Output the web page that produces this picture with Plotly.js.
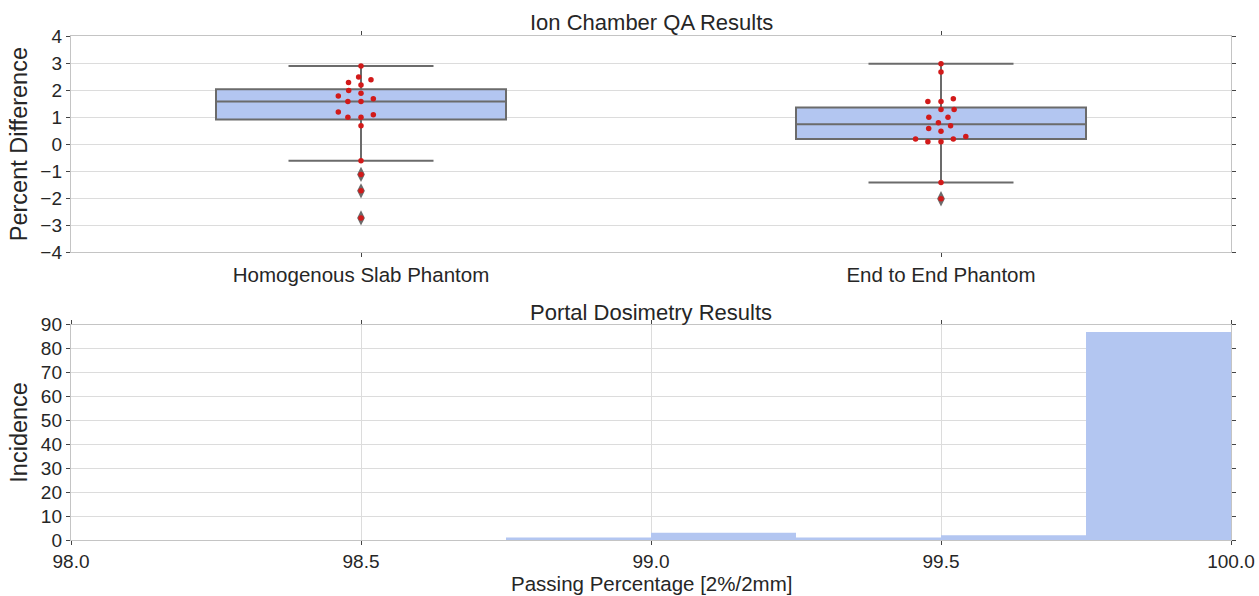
<!DOCTYPE html>
<html>
<head>
<meta charset="utf-8">
<script src="https://cdn.plot.ly/plotly-3.0.1.min.js"></script>
<style>html,body{margin:0;padding:0;background:#fff;}#chart{width:1259px;height:596px;}</style>
</head>
<body>
<div id="chart"></div>
<script>
// ---- data ----
const categories = ["Homogenous Slab Phantom", "End to End Phantom"];
const slabValues = [2.89, 2.48, 2.38, 2.28, 2.19, 1.98, 1.88, 1.78, 1.68, 1.58, 1.58, 1.19, 1.09, 0.99, 0.99, 0.68, -0.62, -1.12, -1.73, -2.73];
const e2eValues = [2.97, 2.67, 1.68, 1.58, 1.58, 1.28, 1.28, 0.99, 0.99, 0.79, 0.68, 0.58, 0.48, 0.28, 0.19, 0.19, 0.09, 0.09, -1.42, -2.02];
const binStarts = [98.75, 99.0, 99.25, 99.5, 99.75];
const binCounts = [1, 3, 1, 2, 87];
const binWidth = 0.25;

// ---- helpers ----
function quantile(sorted, p) {
  const pos = (sorted.length - 1) * p;
  const lo = Math.floor(pos), hi = Math.ceil(pos);
  return sorted[lo] + (sorted[hi] - sorted[lo]) * (pos - lo);
}
function boxStats(vals) {
  const s = vals.slice().sort((a, b) => a - b);
  const q1 = quantile(s, 0.25), med = quantile(s, 0.5), q3 = quantile(s, 0.75);
  const iqr = q3 - q1;
  const lo = q1 - 1.5 * iqr, hi = q3 + 1.5 * iqr;
  const inside = s.filter(v => v >= lo && v <= hi);
  return {q1, med, q3, lf: inside[0], uf: inside[inside.length - 1],
          outliers: s.filter(v => v < lo || v > hi)};
}
// beeswarm offsets (in pixels) computed from values
function swarm(vals, yPx, d, stretch) {
  const idx = vals.map((v, i) => i).sort((a, b) => vals[a] - vals[b]);
  const placed = [];
  const out = new Array(vals.length);
  idx.forEach(i => {
    const y = vals[i] * yPx;
    const nb = placed.filter(p => Math.abs(p.y - y) < d);
    let cands = [0];
    nb.forEach(n => {
      const dx = Math.sqrt(d * d - (n.y - y) * (n.y - y)) * stretch;
      cands.push(n.x - dx, n.x + dx);
    });
    cands = cands.map((c, k) => ({c, k})).sort((a, b) => (Math.abs(a.c) - Math.abs(b.c)) || (a.k - b.k)).map(o => o.c);
    let chosen = 0;
    for (const c of cands) {
      const ok = nb.every(n => {
        const dx = (n.x - c) / stretch, dy = n.y - y;
        return dx * dx + dy * dy >= d * d - 1e-6;
      });
      if (ok) { chosen = c; break; }
    }
    placed.push({x: chosen, y});
    out[i] = chosen;
  });
  return out;
}

const yPxPerUnit = 27, xPxPerUnit = 580;
const boxColor = "#b3c6f1", lineColor = "#6b6b6b", dotColor = "#d21a1a";
const groups = [slabValues, e2eValues];
const traces = [];
groups.forEach((vals, gi) => {
  const st = boxStats(vals);
  traces.push({
    type: "box", x: [gi], q1: [st.q1], median: [st.med], q3: [st.q3],
    lowerfence: [st.lf], upperfence: [st.uf],
    width: 0.5, whiskerwidth: 0.5, fillcolor: boxColor,
    line: {color: lineColor, width: 2}, boxpoints: false,
    xaxis: "x", yaxis: "y", hoverinfo: "skip", showlegend: false
  });
  traces.push({
    type: "scatter", mode: "markers", x: st.outliers.map(() => gi), y: st.outliers,
    marker: {symbol: "diamond-tall", size: 11, color: lineColor},
    xaxis: "x", yaxis: "y", hoverinfo: "skip", showlegend: false
  });
});
groups.forEach((vals, gi) => {
  const off = swarm(vals, yPxPerUnit, 7.9, 1.66);
  traces.push({
    type: "scatter", mode: "markers", x: off.map(o => gi + o / xPxPerUnit), y: vals,
    marker: {size: 5.5, color: dotColor},
    xaxis: "x", yaxis: "y", hoverinfo: "skip", showlegend: false
  });
});
traces.push({
  type: "bar", x: binStarts, y: binCounts, width: binWidth, offset: 0,
  marker: {color: boxColor, line: {width: 0}},
  xaxis: "x2", yaxis: "y2", hoverinfo: "skip", showlegend: false
});

const font = {family: "Liberation Sans, Arial, sans-serif", color: "#262626"};
const axisCommon = {
  showline: true, linecolor: "#c4c4c4", linewidth: 1.2, mirror: "allticks",
  ticks: "outside", ticklen: 4, tickwidth: 1, tickcolor: "#444",
  gridcolor: "#dcdcdc", gridwidth: 1, zeroline: false,
  tickfont: {size: 19, family: font.family, color: "#262626"}
};
const layout = {
  width: 1259, height: 596,
  margin: {l: 71, r: 28, t: 36, b: 56},
  paper_bgcolor: "#fff", plot_bgcolor: "#fff",
  font: font, showlegend: false,
  xaxis: Object.assign({}, axisCommon, {
    anchor: "y", domain: [0, 1], range: [-0.5, 1.5],
    tickmode: "array", tickvals: [0, 1], ticktext: categories, showgrid: false,
    tickfont: {size: 20.5, family: font.family, color: "#262626"}
  }),
  yaxis: Object.assign({}, axisCommon, {
    anchor: "x", domain: [0.571, 1], range: [-4, 4], dtick: 1, tick0: 0,
    title: {text: "Percent Difference", font: {size: 23.5}, standoff: 6}
  }),
  xaxis2: Object.assign({}, axisCommon, {
    anchor: "y2", domain: [0, 1], range: [98, 100], dtick: 0.5, tick0: 98, tickformat: ".1f"
  }),
  yaxis2: Object.assign({}, axisCommon, {
    anchor: "x2", domain: [0, 0.427], range: [0, 90], dtick: 10, tick0: 0,
    title: {text: "Incidence", font: {size: 23.5}, standoff: 6}
  }),
  annotations: [
    {text: "Ion Chamber QA Results", xref: "paper", yref: "paper", x: 0.5, y: 1,
     xanchor: "center", yanchor: "bottom", showarrow: false, font: {size: 22}, yshift: -1},
    {text: "Portal Dosimetry Results", xref: "paper", yref: "paper", x: 0.5, y: 0.427,
     xanchor: "center", yanchor: "bottom", showarrow: false, font: {size: 22}, yshift: -2},
    {text: "Passing Percentage [2%/2mm]", xref: "paper", yref: "paper", x: 0.5, y: 0,
     xanchor: "center", yanchor: "top", showarrow: false, font: {size: 20.5}, yshift: -31,
     borderpad: 0}
  ]
};
Plotly.newPlot("chart", traces, layout, {staticPlot: true, displayModeBar: false});
</script>
</body>
</html>
